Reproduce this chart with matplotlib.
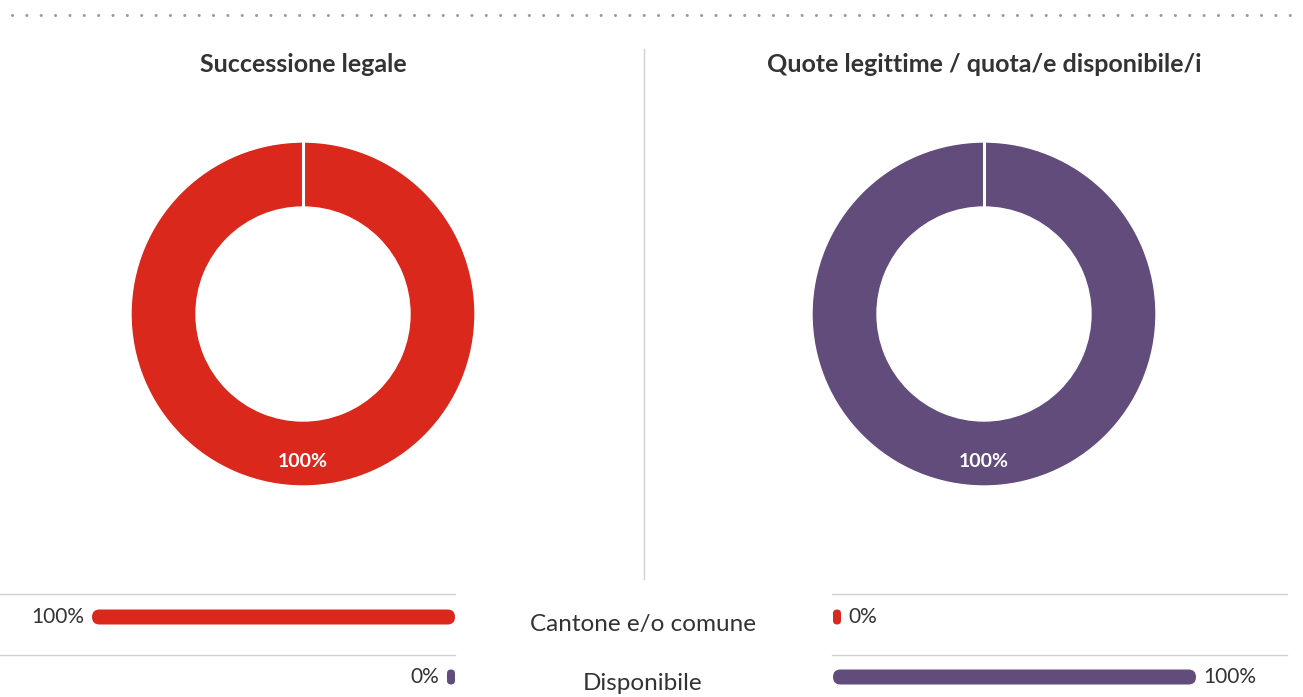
import matplotlib
matplotlib.use("Agg")
import matplotlib.pyplot as plt
from matplotlib.patches import FancyBboxPatch

plt.rcParams['font.family'] = ['Lato', 'DejaVu Sans']

# data
chart_titles = ['Successione legale', 'Quote legittime / quota/e disponibile/i']
categories = ['Cantone e/o comune', 'Disponibile']
legal_share = [100, 0]       # successione legale
reserved_share = [0, 100]    # quote legittime / disponibile
donut_legal = [100]
donut_reserved = [100]

RED = '#DA291C'
PURPLE = '#614C7C'
TEXT = '#333333'
GRID = '#d0d0d0'

W, H = 1303, 697
fig = plt.figure(figsize=(W / 100, H / 100), dpi=100)


def px_axes(x0, y0, x1, y1):
    # axes from pixel box (top-left origin)
    return fig.add_axes([x0 / W, (H - y1) / H, (x1 - x0) / W, (y1 - y0) / H])


bg = px_axes(0, 0, W, H)
bg.set_xlim(0, W)
bg.set_ylim(H, 0)
bg.axis('off')

# dotted rule at the top
bg.plot([12, 1290], [15, 15], color='#9a9a9a', lw=2.2,
        ls=(0, (0.01, 14.3 / 3.05)), dash_capstyle='round')
# separator
bg.plot([643.5, 643.5], [49, 579], color=GRID, lw=1)
# row lines
for y in [594, 655]:
    bg.plot([0, 455], [y, y], color=GRID, lw=1)
    bg.plot([832, 1287], [y, y], color=GRID, lw=1)

# titles
bg.text(303, 64, chart_titles[0], ha='center', va='center', fontsize=18,
        fontweight='bold', color=TEXT)
bg.text(984, 64, chart_titles[1], ha='center', va='center', fontsize=18,
        fontweight='bold', color=TEXT)

# donuts
R_OUT, R_IN = 172, 107
ring = (R_OUT - R_IN) / R_OUT
for cx, vals, col in [(303, donut_legal, RED), (984, donut_reserved, PURPLE)]:
    ax = px_axes(cx - R_OUT, 314 - R_OUT, cx + R_OUT, 314 + R_OUT)
    ax.pie(vals, colors=[col], startangle=90, counterclock=False, radius=1,
           wedgeprops=dict(width=ring, edgecolor='white', linewidth=1),
           autopct='%d%%', pctdistance=0.855,
           textprops=dict(color='white', fontsize=14, fontweight='bold'))
    # slice border at the start angle
    ax.plot([0, 0], [1 - ring - 0.01, 1.01], color='white', lw=2.2)
    ax.set_xlim(-1, 1)
    ax.set_ylim(-1, 1)
    ax.set_aspect('auto')

# category labels
for y, lab in zip([624, 684], categories):
    bg.text(643, y, lab, ha='center', va='center', fontsize=17.5, color=TEXT)


def rounded_bars(ax, values, colors, min_w, side):
    bars = ax.barh(range(len(values)), [max(v, min_w) for v in values],
                   height=0.25, color=colors)
    # data units per pixel
    bb = ax.get_window_extent()
    xu = abs(ax.get_xlim()[1] - ax.get_xlim()[0]) / bb.width
    yu = abs(ax.get_ylim()[1] - ax.get_ylim()[0]) / bb.height
    for rect, v, c in zip(bars, values, colors):
        x, y = rect.get_x(), rect.get_y()
        w, h = rect.get_width(), rect.get_height()
        r_px = min(w / xu, h / yu) / 2
        patch = FancyBboxPatch((x, y), w, h,
                               boxstyle=f'round,pad=0,rounding_size={r_px * xu}',
                               mutation_aspect=yu / xu, fc=c, ec='none', clip_on=False)
        rect.remove()
        ax.add_patch(patch)
        if side == 'left':
            ax.annotate(f'{v}%', (w, y + h / 2), xytext=(-8, 0), textcoords='offset pixels',
                        ha='right', va='center', fontsize=15, color=TEXT)
        else:
            ax.annotate(f'{v}%', (w, y + h / 2), xytext=(7, 0), textcoords='offset pixels',
                        ha='left', va='center', fontsize=15, color=TEXT)


bar_colors = [RED, PURPLE]
left = px_axes(92, 587, 455, 707)
left.set_xlim(100, 0)
left.set_ylim(1.5, -0.5)
left.axis('off')
right = px_axes(833, 587, 1196, 707)
right.set_xlim(0, 100)
right.set_ylim(1.5, -0.5)
right.axis('off')
rounded_bars(left, legal_share, bar_colors, 8 * 100 / 363, 'left')
rounded_bars(right, reserved_share, bar_colors, 8 * 100 / 363, 'right')

fig.savefig('out.png', dpi=100)
